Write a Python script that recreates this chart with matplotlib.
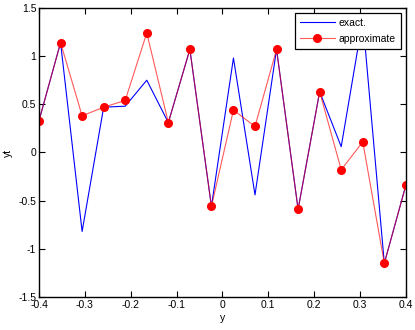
import matplotlib
matplotlib.use("Agg")
import matplotlib.pyplot as plt
import numpy as np

plt.rcParams['font.family'] = ['Liberation Sans', 'DejaVu Sans']

# sample points
y = [-0.4, -0.353, -0.306, -0.259, -0.212, -0.165, -0.118, -0.071, -0.024,
     0.024, 0.071, 0.118, 0.165, 0.212, 0.259, 0.306, 0.353, 0.4]

exact = [0.33, 1.14, -0.82, 0.47, 0.48, 0.75, 0.31, 1.07, -0.56,
         0.98, -0.44, 1.07, -0.59, 0.63, 0.06, 1.38, -1.15, -0.34]

approx = [0.33, 1.14, 0.38, 0.47, 0.54, 1.24, 0.31, 1.07, -0.56,
          0.44, 0.27, 1.07, -0.59, 0.63, -0.18, 0.11, -1.15, -0.34]

xticks = [-0.4, -0.3, -0.2, -0.1, 0, 0.1, 0.2, 0.3, 0.4]
xticklabels = ['-0.4', '-0.3', '-0.2', '-0.1', '0', '0.1', '0.2', '0.3', '0.4']
yticks = [-1.5, -1, -0.5, 0, 0.5, 1, 1.5]
yticklabels = ['-1.5', '-1', '-0.5', '0', '0.5', '1', '1.5']

fig = plt.figure(figsize=(4.15, 3.3), dpi=100)
ax = fig.add_axes([0.094, 0.1, 0.884, 0.876])

ax.plot(y, exact, color='#0000ff', lw=0.8, label='exact.')
ax.plot(y, approx, color=(1, 0, 0, 0.65), lw=0.8, marker='o', markersize=5.5,
        markerfacecolor='red', markeredgecolor='red', label='approximate')

ax.set_xlim(-0.4, 0.4)
ax.set_ylim(-1.5, 1.5)
ax.set_xticks(xticks)
ax.set_xticklabels(xticklabels)
ax.set_yticks(yticks)
ax.set_yticklabels(yticklabels)
ax.tick_params(direction='in', top=True, right=True, length=4, width=0.8,
               labelsize=7.5, pad=2)
for s in ax.spines.values():
    s.set_linewidth(1.0)

ax.set_xlabel('y', fontsize=7.5, labelpad=2)
ax.set_ylabel('yt', fontsize=7.5, labelpad=4)

leg = ax.legend(loc='upper right', fontsize=7.5, fancybox=False, framealpha=1,
                edgecolor='black', borderaxespad=0.45, handlelength=3.3,
                handletextpad=0.4, borderpad=0.5, labelspacing=0.55)
leg.get_frame().set_linewidth(0.9)

fig.savefig('out.png', dpi=100)
